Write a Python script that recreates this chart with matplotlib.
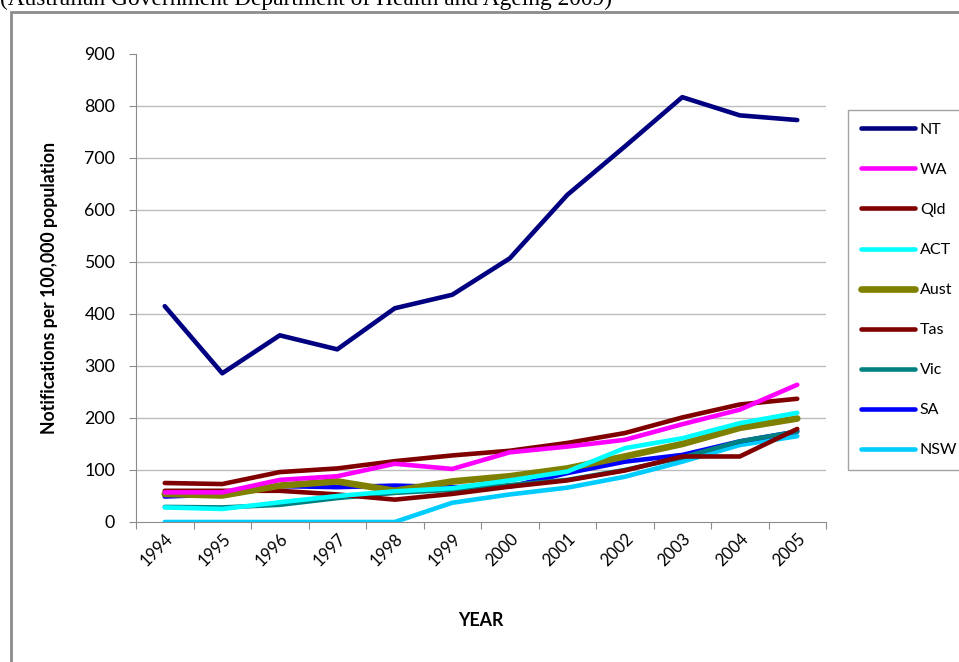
import matplotlib
matplotlib.use("Agg")
import matplotlib.pyplot as plt
from matplotlib.patches import Rectangle

years = [str(y) for y in range(1994, 2006)]

nt   = [415, 286, 359, 332, 411, 437, 507, 629, 722, 817, 782, 773]
wa   = [57, 57, 81, 88, 112, 102, 134, 145, 158, 188, 216, 264]
qld  = [75, 73, 96, 103, 117, 128, 137, 152, 171, 201, 226, 237]
act  = [28, 25, 38, 50, 59, 65, 80, 97, 142, 161, 190, 210]
aust = [54, 51, 70, 78, 60, 78, 88, 103, 126, 150, 181, 199]
tas  = [60, 60, 60, 53, 43, 54, 68, 80, 99, 126, 126, 179]
vic  = [29, 28, 33, 46, 56, 62, 71, 81, 100, 124, 155, 174]
sa   = [49, 53, 69, 67, 70, 67, 68, 94, 116, 129, 155, 174]
nsw  = [0, 0, 0, 0, 0, 37, 53, 66, 87, 116, 148, 165]

series = [
    ("NT", nt, "#000080", 3.3),
    ("WA", wa, "#ff00ff", 3.3),
    ("Qld", qld, "#800000", 3.3),
    ("ACT", act, "#00ffff", 3.3),
    ("Aust", aust, "#808000", 4.8),
    ("Tas", tas, "#800000", 3.3),
    ("Vic", vic, "#008080", 3.3),
    ("SA", sa, "#0000ff", 3.3),
    ("NSW", nsw, "#00ccff", 3.3),
]

W, H = 959, 662
fig = plt.figure(figsize=(W / 100, H / 100), dpi=100)
fig.patch.set_facecolor("white")

sans = ["Lato", "DejaVu Sans"]

# outer chart frame
fig.patches.append(Rectangle((11 / W, -0.05), 1.0, 1 - 12 / H + 0.05,
                             transform=fig.transFigure, fill=False,
                             edgecolor="#8c8c8c", linewidth=2.0))

fig.text(0.0, 1 - 5 / H, "(Australian Government Department of Health and Ageing 2009)",
         family=["Liberation Serif", "DejaVu Serif"], fontsize=16.8,
         ha="left", va="baseline")

ax = fig.add_axes([136 / W, 1 - 522 / H, 690 / W, 468 / H])
x = list(range(len(years)))
for name, vals, color, lw in reversed(series):
    ax.plot(x, vals, color=color, lw=lw, solid_capstyle="round",
            solid_joinstyle="round", label=name, zorder=3)

ax.set_xlim(-0.5, len(years) - 0.5)
ax.set_ylim(0, 900)
ax.set_yticks(range(0, 1000, 100))
for yv in range(100, 900, 100):
    ax.axhline(yv, color="#bdbdbd", lw=1.0, zorder=1)

ax.set_xticks([i - 0.5 for i in range(len(years) + 1)], minor=False)
ax.set_xticklabels([])
ax.set_xticks(x, minor=True)
ax.set_xticklabels(years, minor=True, rotation=45, ha="right", va="top",
                   rotation_mode="anchor", family=sans, fontsize=12)
ax.tick_params(axis="x", which="minor", length=0, pad=6)
ax.tick_params(axis="x", which="major", length=5, color="#8c8c8c", direction="out")
ax.tick_params(axis="y", length=5, color="#8c8c8c", direction="out", pad=10)
for lab in ax.get_yticklabels():
    lab.set_family(sans)
    lab.set_fontsize(12.8)

for s in ["top", "right"]:
    ax.spines[s].set_visible(False)
ax.spines["left"].set_color("#8c8c8c")
ax.spines["bottom"].set_color("#8c8c8c")
ax.spines["left"].set_zorder(4)

ax.set_ylabel("Notifications per 100,000 population", family=sans,
              fontsize=12.7, fontweight="bold")
ax.yaxis.set_label_coords(-(136 - 58) / 690, 0.5)
ax.text(0.5, -(620 - 522) / 468, "YEAR", transform=ax.transAxes,
        ha="center", va="center", family=sans, fontsize=12.8, fontweight="bold")

handles, labels = ax.get_legend_handles_labels()
handles, labels = handles[::-1], labels[::-1]
leg = fig.legend(handles, labels, loc="upper left",
                 bbox_to_anchor=(848 / W, 1 - 110 / H),
                 frameon=True, fancybox=False, edgecolor="#8c8c8c",
                 prop={"family": sans, "size": 11.5},
                 handlelength=3.4, handletextpad=0.3, labelspacing=1.62,
                 borderpad=0.8, borderaxespad=0)
leg.get_frame().set_linewidth(1.0)

fig.savefig("out.png", dpi=100)
